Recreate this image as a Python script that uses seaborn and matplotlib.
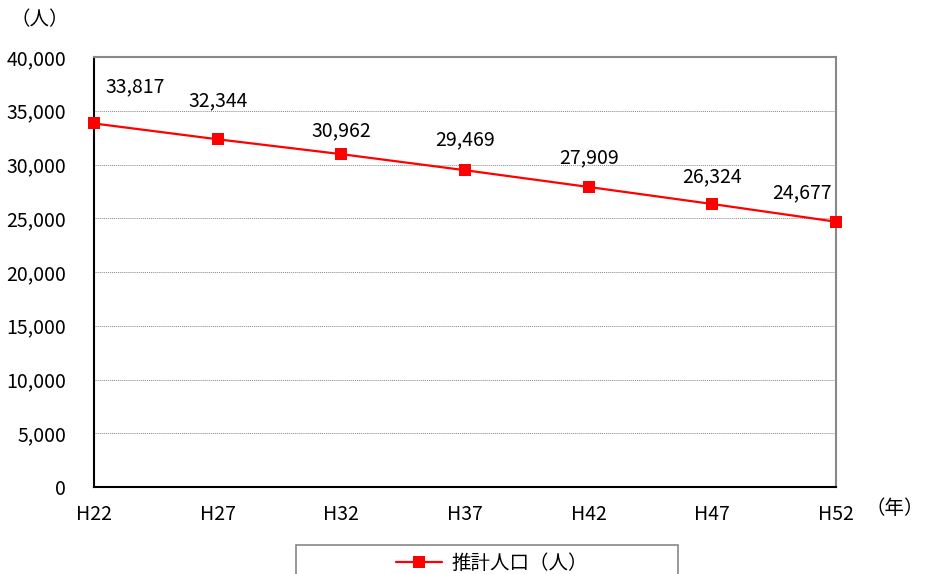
import seaborn as sns
import matplotlib.pyplot as plt
import matplotlib.patches as mpatches
import pandas as pd
import numpy as np

years = ["H22", "H27", "H32", "H37", "H42", "H47", "H52"]
population = [33817, 32344, 30962, 29469, 27909, 26324, 24677]
series_name = "推計人口（人）"

# label offsets in pixels (dx, dy) relative to each point
label_dx = [41, 0, 0, 0, 0, 0, -34]
label_dy = [37, 39, 23, 30, 29, 27, 29]

df = pd.DataFrame({"year": years, "pos": np.arange(len(years)), "value": population})

sns.set_style("white")
plt.rcParams["font.family"] = ["Noto Sans CJK JP", "DejaVu Sans"]
plt.rcParams["text.color"] = "black"

fig = plt.figure(figsize=(9.26, 5.74), dpi=100)
ax = fig.add_axes([94 / 926, 87 / 574, 742 / 926, 430 / 574])

sns.lineplot(data=df, x="pos", y="value", ax=ax, color="#ff0000", linewidth=1.6,
             marker="s", markersize=9, markeredgewidth=0, label=series_name,
             clip_on=False, legend=False, zorder=5)

ax.set_xlim(0, len(years) - 1)
ax.set_ylim(0, 40000)
ax.set_yticks(np.arange(0, 40001, 5000))
ax.set_yticklabels([f"{v:,}" for v in range(0, 40001, 5000)], fontsize=14)
ax.set_xticks(df["pos"])
ax.set_xticklabels(years, fontsize=14)
ax.tick_params(axis="y", length=0, pad=20, labelcolor="black")
ax.tick_params(axis="x", direction="in", length=5, color="#aaaaaa", pad=12, labelcolor="black")
ax.set_xlabel("")
ax.set_ylabel("")

ax.grid(axis="y", color="#888888", linestyle=(0, (1, 1)), linewidth=0.7)
ax.set_axisbelow(True)

ax.spines["left"].set_color("black")
ax.spines["bottom"].set_color("black")
ax.spines["left"].set_linewidth(1.5)
ax.spines["bottom"].set_linewidth(1.5)
ax.spines["top"].set_color("#888888")
ax.spines["right"].set_color("#888888")
ax.spines["top"].set_linewidth(1.5)
ax.spines["right"].set_linewidth(1.5)

for i, v in enumerate(population):
    ax.annotate(f"{v:,}", (i, v), xytext=(label_dx[i], label_dy[i]),
                textcoords="offset pixels", ha="center", va="center", fontsize=14)

fig.text(40 / 926, 1 - 20 / 574, "（人）", ha="center", va="center", fontsize=14)
fig.text(924 / 926, 1 - 508 / 574, "（年）", ha="right", va="center", fontsize=14)

# legend box (cut by the figure bottom)
fig.patches.append(mpatches.Rectangle((296 / 926, -0.05), 382 / 926, 0.05 + 29 / 574,
                                      transform=fig.transFigure, fill=False,
                                      edgecolor="#888888", linewidth=1.2))
handles, labels = ax.get_legend_handles_labels()
fig.legend(handles, labels, loc="center", bbox_to_anchor=(492 / 926, 1 - 563 / 574),
           frameon=False, fontsize=14, handlelength=2.4, handletextpad=0.5)

fig.savefig("out.png", dpi=100)
